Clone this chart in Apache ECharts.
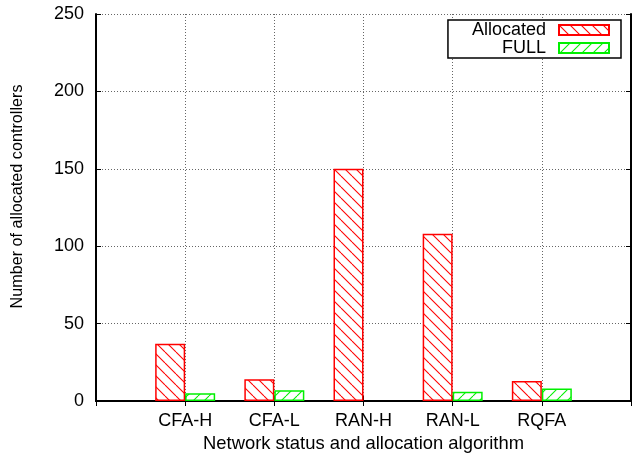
<!DOCTYPE html>
<html>
<head>
<meta charset="utf-8">
<script src="https://cdn.jsdelivr.net/npm/echarts@6/dist/echarts.min.js"></script>
<style>
html,body{margin:0;padding:0;background:#fff;}
#chart{width:638px;height:459px;}
</style>
</head>
<body>
<div id="chart"></div>
<script>
const categories = ['CFA-H', 'CFA-L', 'RAN-H', 'RAN-L', 'RQFA'];
const allocated = [37, 14, 150, 108, 13];
const full = [5, 7, 0, 6, 8];
const yTicks = [0, 50, 100, 150, 200, 250];
const seriesNames = ['Allocated', 'FULL'];
const xTitle = 'Network status and allocation algorithm';
const yTitle = 'Number of allocated controllers';

function hatch(color, dir) {
  const s = 11;
  const c = document.createElement('canvas');
  c.width = s; c.height = s;
  const g = c.getContext('2d');
  g.fillStyle = '#fff';
  g.fillRect(0, 0, s, s);
  g.strokeStyle = color;
  g.lineWidth = 1.1;
  for (let k = -1; k <= 1; k++) {
    g.beginPath();
    if (dir === 'back') {
      g.moveTo(k * s, 0); g.lineTo(k * s + s, s);
    } else {
      g.moveTo(k * s, s); g.lineTo(k * s + s, 0);
    }
    g.stroke();
  }
  return { image: c, repeat: 'repeat' };
}

const axisCats = [''].concat(categories, ['']);
// zero-height bars are not drawn in the reference: hide their outline
const pad = arr => ['-'].concat(arr.map(v => v === 0 ? { value: 0, itemStyle: { borderWidth: 0, opacity: 0 } } : v), ['-']);
const FONT = 'Liberation Sans, Arial, sans-serif';
const RED = '#ff0000', GREEN = '#00f000';

const chart = echarts.init(document.getElementById('chart'), null, { renderer: 'canvas' });
const lineStyleAxis = { color: '#000', width: 2 };
const gridDots = { show: true, lineStyle: { color: '#666', type: [1, 2], width: 1 } };

chart.setOption({
  animation: false,
  backgroundColor: '#fff',
  grid: { left: 96, right: 7, top: 14, bottom: 58, containLabel: false },
  legend: {
    orient: 'vertical',
    align: 'right',
    right: 17,
    top: 20,
    padding: [1, 11, 1, 24],
    itemGap: 0,
    itemWidth: 50,
    itemHeight: 10,
    borderColor: '#000',
    borderWidth: 1.5,
    borderRadius: 0,
    backgroundColor: '#fff',
    selectedMode: false,
    textStyle: { fontFamily: FONT, fontSize: 18, color: '#000', lineHeight: 18, padding: [0, 8, 0, 0] },
    data: seriesNames.map(n => ({ name: n, icon: 'rect' }))
  },
  xAxis: [{
    type: 'category',
    data: axisCats,
    boundaryGap: false,
    name: xTitle,
    nameLocation: 'middle',
    nameGap: 30,
    nameTextStyle: { fontFamily: FONT, fontSize: 18.4, color: '#000' },
    axisLine: { show: true, lineStyle: lineStyleAxis },
    axisTick: { show: true, inside: true, length: 5, lineStyle: { color: '#000', width: 1 } },
    axisLabel: { fontFamily: FONT, fontSize: 18, color: '#000', margin: 11 },
    splitLine: gridDots
  }, {
    type: 'category',
    data: axisCats,
    boundaryGap: false,
    position: 'top',
    axisLine: { show: true, lineStyle: lineStyleAxis },
    axisTick: { show: true, inside: true, length: 5, lineStyle: { color: '#000', width: 1 } },
    axisLabel: { show: false },
    splitLine: { show: false }
  }],
  yAxis: [{
    type: 'value',
    min: yTicks[0],
    max: yTicks[yTicks.length - 1],
    interval: yTicks[1] - yTicks[0],
    name: yTitle,
    nameLocation: 'middle',
    nameGap: 70,
    nameTextStyle: { fontFamily: FONT, fontSize: 16.2, color: '#000', padding: [0, 0, 0, 22] },
    axisLine: { show: true, lineStyle: lineStyleAxis },
    axisTick: { show: true, inside: true, length: 5, lineStyle: { color: '#000', width: 1 } },
    axisLabel: { fontFamily: FONT, fontSize: 18, color: '#000', margin: 12 },
    splitLine: gridDots
  }, {
    type: 'value',
    min: yTicks[0],
    max: yTicks[yTicks.length - 1],
    interval: yTicks[1] - yTicks[0],
    position: 'right',
    axisLine: { show: true, lineStyle: lineStyleAxis },
    axisTick: { show: true, inside: true, length: 5, lineStyle: { color: '#000', width: 1 } },
    axisLabel: { show: false },
    splitLine: { show: false }
  }],
  series: [{
    name: seriesNames[0],
    type: 'bar',
    data: pad(allocated),
    barWidth: 30,
    barGap: '0%',
    itemStyle: { color: hatch(RED, 'back'), borderColor: RED, borderWidth: 1.5 }
  }, {
    name: seriesNames[1],
    type: 'bar',
    data: pad(full),
    barWidth: 30,
    barGap: '0%',
    itemStyle: { color: hatch(GREEN, 'fwd'), borderColor: GREEN, borderWidth: 1.5 }
  }]
});
</script>
</body>
</html>
